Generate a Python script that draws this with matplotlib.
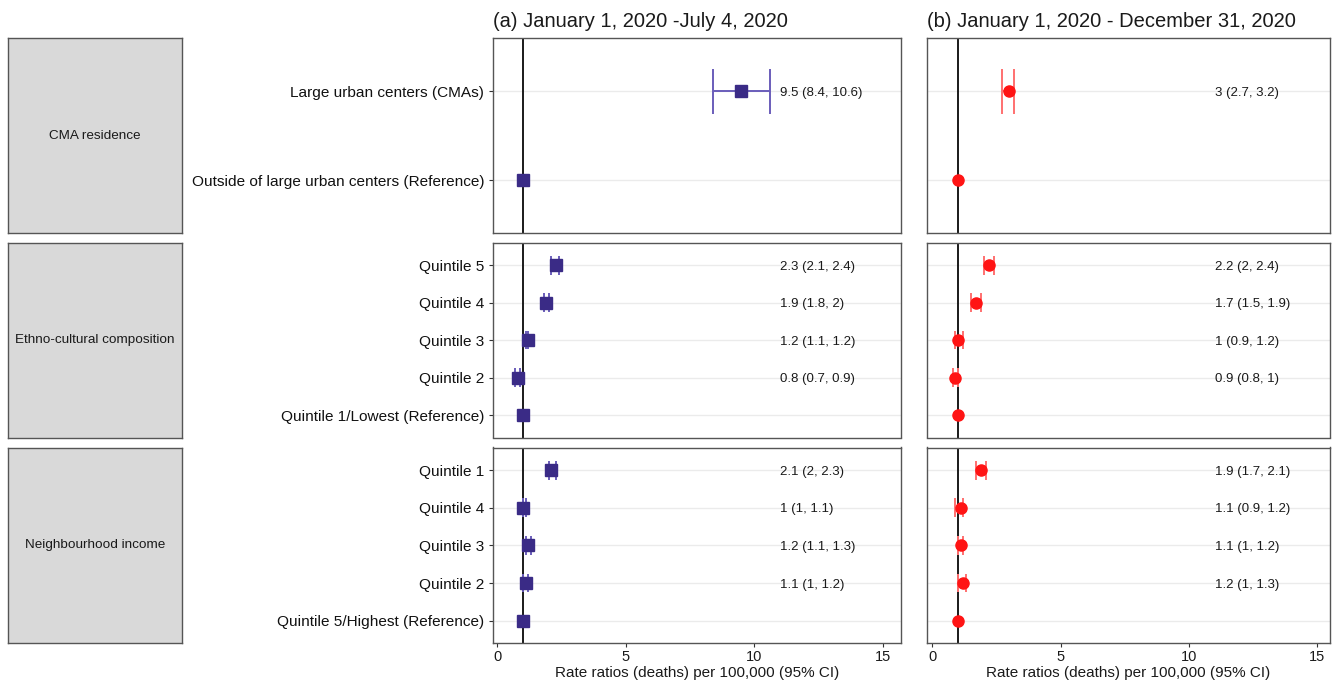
import numpy as np
import matplotlib.pyplot as plt

plt.rcParams['font.family'] = ['Liberation Sans', 'DejaVu Sans']

titles = ["(a) January 1, 2020 -July 4, 2020", "(b) January 1, 2020 - December 31, 2020"]
groups = ["CMA residence", "Ethno-cultural composition", "Neighbourhood income"]
labels = [
    ["Large urban centers (CMAs)", "Outside of large urban centers (Reference)"],
    ["Quintile 5", "Quintile 4", "Quintile 3", "Quintile 2", "Quintile 1/Lowest (Reference)"],
    ["Quintile 1", "Quintile 4", "Quintile 3", "Quintile 2", "Quintile 5/Highest (Reference)"],
]

# (a) Jan 1 - Jul 4, 2020
rr_a = [[9.5, 1], [2.3, 1.9, 1.2, 0.8, 1], [2.1, 1, 1.2, 1.1, 1]]
lo_a = [[8.4, 1], [2.1, 1.8, 1.1, 0.7, 1], [2, 1, 1.1, 1, 1]]
hi_a = [[10.6, 1], [2.4, 2, 1.2, 0.9, 1], [2.3, 1.1, 1.3, 1.2, 1]]

# (b) Jan 1 - Dec 31, 2020
rr_b = [[3, 1], [2.2, 1.7, 1, 0.9, 1], [1.9, 1.1, 1.1, 1.2, 1]]
lo_b = [[2.7, 1], [2, 1.5, 0.9, 0.8, 1], [1.7, 0.9, 1, 1, 1]]
hi_b = [[3.2, 1], [2.4, 1.9, 1.2, 1, 1], [2.1, 1.2, 1.2, 1.3, 1]]

W, H = 1336, 684
fig = plt.figure(figsize=(W / 100, H / 100), dpi=100)

# panel rows in pixels (top, bottom)
rows_px = [(38.3, 233.3), (242.7, 437.5), (447.5, 643.3)]
cols_px = [(492.7, 900.7), (926.7, 1330.0)]
xlims = [(-0.18, 15.7), (-0.22, 15.5)]
styles = [dict(marker='s', mc='#3A2B86', bc='#6A5DBA'),
          dict(marker='o', mc='#FF1414', bc='#FF7070')]
data = [(rr_a, lo_a, hi_a), (rr_b, lo_b, hi_b)]


def px_rect(x0, x1, y0, y1):
    return [x0 / W, 1 - y1 / H, (x1 - x0) / W, (y1 - y0) / H]


for r, (top, bot) in enumerate(rows_px):
    # strip box on the left
    sax = fig.add_axes(px_rect(8.3, 181.7, top, bot))
    sax.set_facecolor('#D9D9D9')
    sax.set_xticks([])
    sax.set_yticks([])
    for s in sax.spines.values():
        s.set_color('#555555')
        s.set_linewidth(1)
    sax.text(0.5, 0.5, groups[r], ha='center', va='center', fontsize=9.7,
             color='#1a1a1a', transform=sax.transAxes)

    n = len(labels[r])
    ypos = np.arange(n)[::-1]
    for c, (left, right) in enumerate(cols_px):
        ax = fig.add_axes(px_rect(left, right, top, bot))
        rr, lo, hi = data[c]
        st = styles[c]
        ax.axvline(1, color='#1a1a1a', lw=1.4, zorder=1.5)
        for i in range(n):
            y = ypos[i]
            if lo[r][i] != hi[r][i]:
                ax.hlines(y, lo[r][i], hi[r][i], color=st['bc'], lw=1.4, zorder=2)
                ax.vlines([lo[r][i], hi[r][i]], y - 0.25, y + 0.25,
                          color=st['bc'], lw=1.4, zorder=2)
            ax.plot(rr[r][i], y, st['marker'], color=st['mc'], ms=8,
                    mec=st['mc'], zorder=3)
            if "(Reference)" not in labels[r][i]:
                ax.text(11, y, f"{rr[r][i]:g} ({lo[r][i]:g}, {hi[r][i]:g})",
                        ha='left', va='center_baseline', fontsize=9.5,
                        color='#1a1a1a')
        ax.set_xlim(*xlims[c])
        ax.set_ylim(-0.6, n - 0.4)
        ax.set_yticks(ypos)
        ax.grid(axis='y', color='#EBEBEB', lw=1, zorder=0)
        ax.set_axisbelow(True)
        for s in ax.spines.values():
            s.set_color('#555555')
            s.set_linewidth(1)
        if c == 0:
            ax.set_yticklabels(labels[r], fontsize=11.1, color='#111111')
            ax.tick_params(axis='y', length=3, pad=3, color='#333333')
        else:
            ax.set_yticklabels([])
            ax.tick_params(axis='y', length=0)
        ax.set_xticks([0, 5, 10, 15])
        if r == len(rows_px) - 1:
            ax.tick_params(axis='x', length=3, pad=2, labelsize=10.5,
                           color='#333333', labelcolor='#1a1a1a')
            ax.set_xlabel("Rate ratios (deaths) per 100,000 (95% CI)",
                          fontsize=11, labelpad=1, color='#1a1a1a')
        else:
            ax.tick_params(axis='x', length=0, labelbottom=False)
        if r == 0:
            ax.set_title(titles[c], loc='left', fontsize=14.5, pad=8,
                         color='#1a1a1a')

fig.savefig('out.png', dpi=100)
